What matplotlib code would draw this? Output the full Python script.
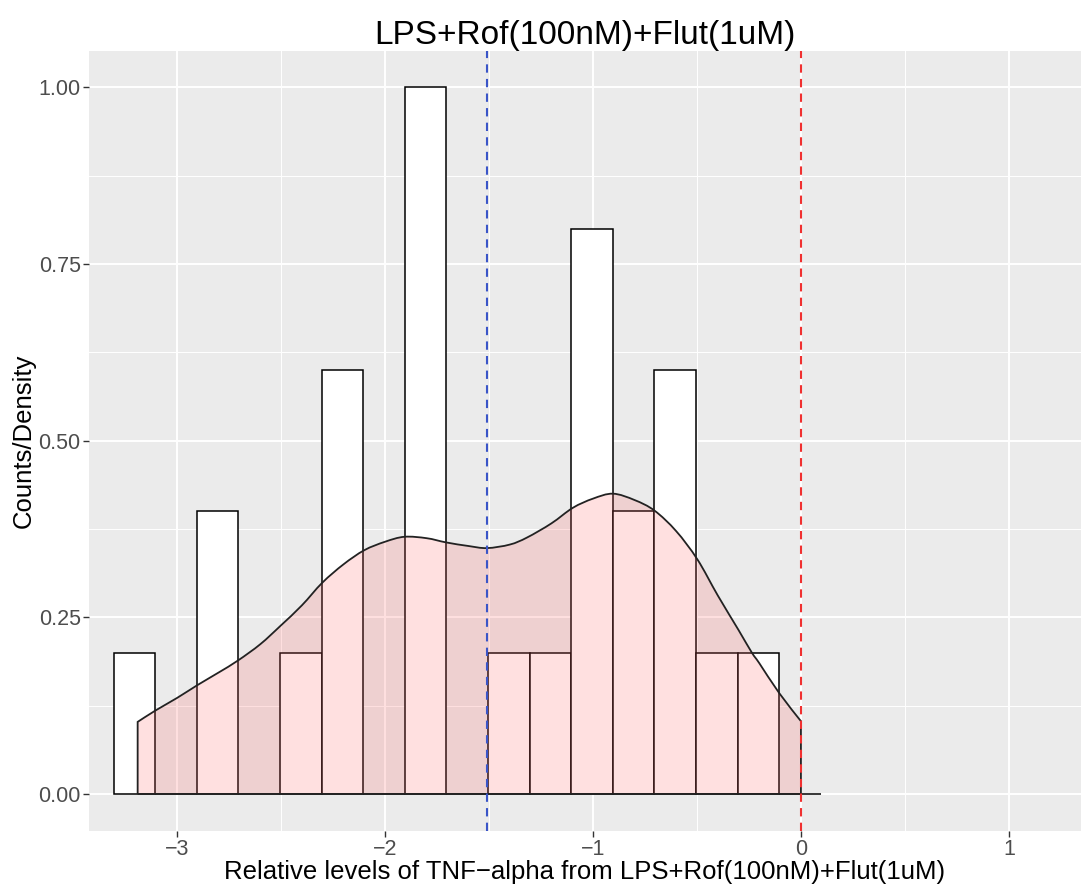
import matplotlib
matplotlib.use("Agg")
import matplotlib.pyplot as plt
from matplotlib.ticker import FixedLocator, FormatStrFormatter
from matplotlib.path import Path
from matplotlib.patches import PathPatch

plt.rcParams['font.family'] = ['Liberation Sans', 'DejaVu Sans']

# ---- data ----
title = "LPS+Rof(100nM)+Flut(1uM)"
x_label = "Relative levels of TNF\u2212alpha from LPS+Rof(100nM)+Flut(1uM)"
y_label = "Counts/Density"

bin_lefts = [-3.305, -3.105, -2.905, -2.705, -2.505, -2.305, -2.105, -1.905, -1.705,
             -1.505, -1.305, -1.105, -0.905, -0.705, -0.505, -0.305, -0.105]
bin_width = 0.2
bin_heights = [0.2, 0.0, 0.4, 0.0, 0.2, 0.6, 0.0, 1.0, 0.0,
               0.2, 0.2, 0.8, 0.4, 0.6, 0.2, 0.2, 0.0]

density_x = [-3.19, -3.105, -3.0, -2.903, -2.8, -2.707, -2.6, -2.503, -2.4, -2.302,
             -2.2, -2.1, -2.0, -1.907, -1.8, -1.706, -1.6, -1.51, -1.4, -1.317,
             -1.2, -1.097, -1.0, -0.904, -0.8, -0.704, -0.6, -0.498, -0.4, -0.3,
             -0.236, -0.2, -0.105, 0.0]
density_y = [0.102, 0.118, 0.136, 0.154, 0.172, 0.189, 0.212, 0.238, 0.267, 0.299,
             0.325, 0.345, 0.357, 0.364, 0.362, 0.356, 0.351, 0.348, 0.353, 0.363,
             0.383, 0.405, 0.418, 0.425, 0.416, 0.401, 0.372, 0.332, 0.281, 0.232,
             0.200, 0.185, 0.143, 0.103]

vline_blue = -1.51
vline_red = 0.0

x_ticks = [-3, -2, -1, 0, 1]
x_minor = [-2.5, -1.5, -0.5, 0.5]
y_ticks = [0.0, 0.25, 0.5, 0.75, 1.0]
y_minor = [0.125, 0.375, 0.625, 0.875]


def smooth_path(xs, ys):
    """Catmull-Rom through the read points, drawn as cubic Bezier segments,
    closed down to the baseline."""
    verts = [(xs[0], 0.0), (xs[0], ys[0])]
    codes = [Path.MOVETO, Path.LINETO]
    n = len(xs)
    for i in range(n - 1):
        x0, y0 = (xs[i - 1], ys[i - 1]) if i > 0 else (xs[i], ys[i])
        x1, y1 = xs[i], ys[i]
        x2, y2 = xs[i + 1], ys[i + 1]
        x3, y3 = (xs[i + 2], ys[i + 2]) if i + 2 < n else (x2, y2)
        c1 = (x1 + (x2 - x0) / 6.0, y1 + (y2 - y0) / 6.0)
        c2 = (x2 - (x3 - x1) / 6.0, y2 - (y3 - y1) / 6.0)
        verts += [c1, c2, (x2, y2)]
        codes += [Path.CURVE4] * 3
    verts += [(xs[-1], 0.0), (xs[0], 0.0)]
    codes += [Path.LINETO, Path.LINETO]
    return Path(verts, codes)


# ---- figure ----
W, H = 1081, 886
fig = plt.figure(figsize=(W / 100, H / 100), dpi=100)
ax = fig.add_axes([89 / W, (H - 830.7) / H, (W - 89) / W, (830.7 - 50.7) / H])
ax.set_facecolor('#EBEBEB')
for s in ax.spines.values():
    s.set_visible(False)

ax.set_xlim(-3.424, 1.347)
ax.set_ylim(-0.052, 1.052)

ax.xaxis.set_major_locator(FixedLocator(x_ticks))
ax.xaxis.set_minor_locator(FixedLocator(x_minor))
ax.yaxis.set_major_locator(FixedLocator(y_ticks))
ax.yaxis.set_minor_locator(FixedLocator(y_minor))
ax.yaxis.set_major_formatter(FormatStrFormatter('%.2f'))
ax.grid(which='major', color='white', linewidth=1.4)
ax.grid(which='minor', color='white', linewidth=0.7)
ax.set_axisbelow(True)
ax.tick_params(which='major', length=4, width=1.0, color='#333333',
               labelcolor='#4D4D4D', labelsize=15.5, pad=2)
ax.tick_params(which='minor', length=0)

# histogram bars
ax.bar(bin_lefts, bin_heights, width=bin_width, align='edge',
       facecolor='white', edgecolor='black', linewidth=1.1, zorder=2)

# density
dpath = smooth_path(density_x, density_y)
ax.add_patch(PathPatch(dpath, facecolor=(1.0, 0.4, 0.4, 0.2), edgecolor='none', zorder=3))
ax.add_patch(PathPatch(dpath, facecolor='none', edgecolor='#222222', linewidth=1.3, zorder=4))

# vertical reference lines
ax.axvline(vline_blue, color='#3A55C8', linestyle=(0, (4, 3)), linewidth=1.5, zorder=5)
ax.axvline(vline_red, color='#F03030', linestyle=(0, (4, 3)), linewidth=1.5, zorder=5)

ax.set_xlabel(x_label, fontsize=18.5, color='black', labelpad=0)
ax.set_ylabel(y_label, fontsize=18.5, color='black', labelpad=2)

fig.text((89 + W) / 2 / W, 1 - 44 / H, title, ha='center', va='baseline',
         fontsize=24, color='black')

fig.savefig('out.png', dpi=100)
